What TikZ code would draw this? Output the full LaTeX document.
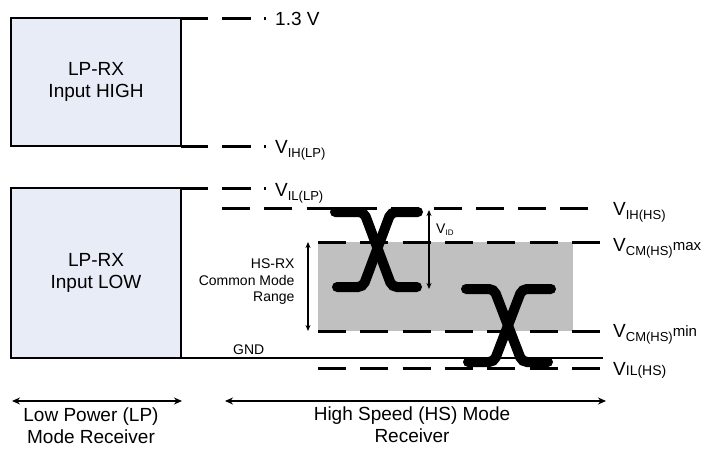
\documentclass[tikz,border=0pt]{standalone}
\usepackage{fontspec}
\setmainfont{Liberation Sans}
\usetikzlibrary{positioning}
\usetikzlibrary{arrows.meta}

\definecolor{lpfill}{RGB}{232,236,247}
\definecolor{cmgray}{RGB}{192,192,192}
\newcommand{\Vs}[1]{V\raisebox{-4.5pt}{\fontsize{13}{13}\selectfont #1}}

\begin{document}
\begin{tikzpicture}[x=1pt,y=-1pt,
  lpbox/.style={draw,line width=2.8pt,fill=lpfill,minimum width=170pt,inner sep=0pt,outer sep=0pt},
  big/.style={font=\fontsize{19}{22}\selectfont},
  small/.style={font=\fontsize{14}{16.5}\selectfont},
  lvl/.style={big,anchor=base west,inner sep=0pt},
  lplev/.style={line width=3pt,dash pattern=on 27pt off 14pt on 29pt off 13pt on 2pt off 50pt},
  hslev/.style={line width=3pt,dash pattern=on 28pt off 14.3pt},
  eye/.style={line width=10pt,line cap=round,rounded corners=5pt},
  dim/.style={line width=1.2pt,{Stealth[length=6pt,width=5pt]}-{Stealth[length=6pt,width=5pt]}},
  span/.style={line width=2pt,{Stealth[length=8pt,width=7pt]}-{Stealth[length=8pt,width=7pt]}}]
 \useasboundingbox (0,0) rectangle (710,448);

 \node[lpbox,minimum height=128pt] (high) at (96,82) {};
 \node[big,align=center] (hightxt) at (high.center) {LP-RX\\Input HIGH};
 \node[lpbox,minimum height=170pt] (low) at (96,273) {};
 \node[big,align=center] (lowtxt) at (low.center) {LP-RX\\Input LOW};

 \draw[lplev] (high.north east) -- ++(86,0);
 \draw[lplev] (high.south east) -- ++(86,0);
 \draw[lplev] (low.north east) -- ++(86,0);
 \node[lvl] (v13) at (275,25) {1.3 V};
 \node[lvl] (vihlp) at (275,153) {\Vs{IH(LP)}};
 \node[lvl] (villp) at (275,196) {\Vs{IL(LP)}};

 \fill[cmgray] (318,242) rectangle (573,331);
 \draw[hslev] (222,208) -- (591,208);
 \draw[hslev] (318,242) -- (601,242);
 \draw[hslev] (318,331) -- (601,331);
 \draw[line width=2pt] (low.south east) -- (603,358);
 \draw[hslev] (318,368) -- (601,368);
 \node[small,anchor=base west,inner sep=0pt] (gnd) at (233,354) {GND};

 \node[lvl] (vihhs) at (613,215) {\Vs{IH(HS)}};
 \node[lvl] (vcmmax) at (613,251) {\Vs{CM(HS)}\raisebox{0.5pt}{\fontsize{15}{15}\selectfont max}};
 \node[lvl] (vcmmin) at (613,337) {\Vs{CM(HS)}\raisebox{0.5pt}{\fontsize{15}{15}\selectfont min}};
 \node[lvl] (vilhs) at (613,375) {V{\fontsize{14}{14}\selectfont IL(HS)}};

 \draw[eye] (335,212) -- (364,212) -- (392,287) -- (417,287);
 \draw[eye] (337,287) -- (363,287) -- (391,212) -- (418,212);
 \draw[eye] (466,289) -- (494,289) -- (522,362) -- (548,362);
 \draw[eye] (468,362) -- (494,362) -- (522,289) -- (551,289);

 \coordinate (idtop) at (429,210);
 \coordinate (idbot) at (429,289);
 \draw[dim] (idtop) -- (idbot);
 \node[anchor=base west,inner sep=0pt,font=\fontsize{14}{14}\selectfont] (vid) at (436,233) {V\raisebox{-2pt}{\fontsize{8}{8}\selectfont ID}};

 \coordinate (cmtop) at (308,242);
 \coordinate (cmbot) at (308,331);
 \draw[dim] (cmtop) -- (cmbot);
 \node[small,align=right,anchor=east] (cmtxt) at (298,282) {HS-RX\\Common Mode\\Range};

 \coordinate (lpl) at (12,401);
 \coordinate (lpr) at (182,401);
 \coordinate (hsl) at (225,401);
 \coordinate (hsr) at (606,401);
 \draw[span] (lpl) -- (lpr);
 \draw[span] (hsl) -- (hsr);
 \node[big,align=center,inner sep=1pt] (lptxt) at (91,426) {Low Power (LP)\\Mode Receiver};
 \node[big,align=center,inner sep=1pt] (hstxt) at (412,425) {High Speed (HS) Mode\\Receiver};
\end{tikzpicture}
\end{document}
